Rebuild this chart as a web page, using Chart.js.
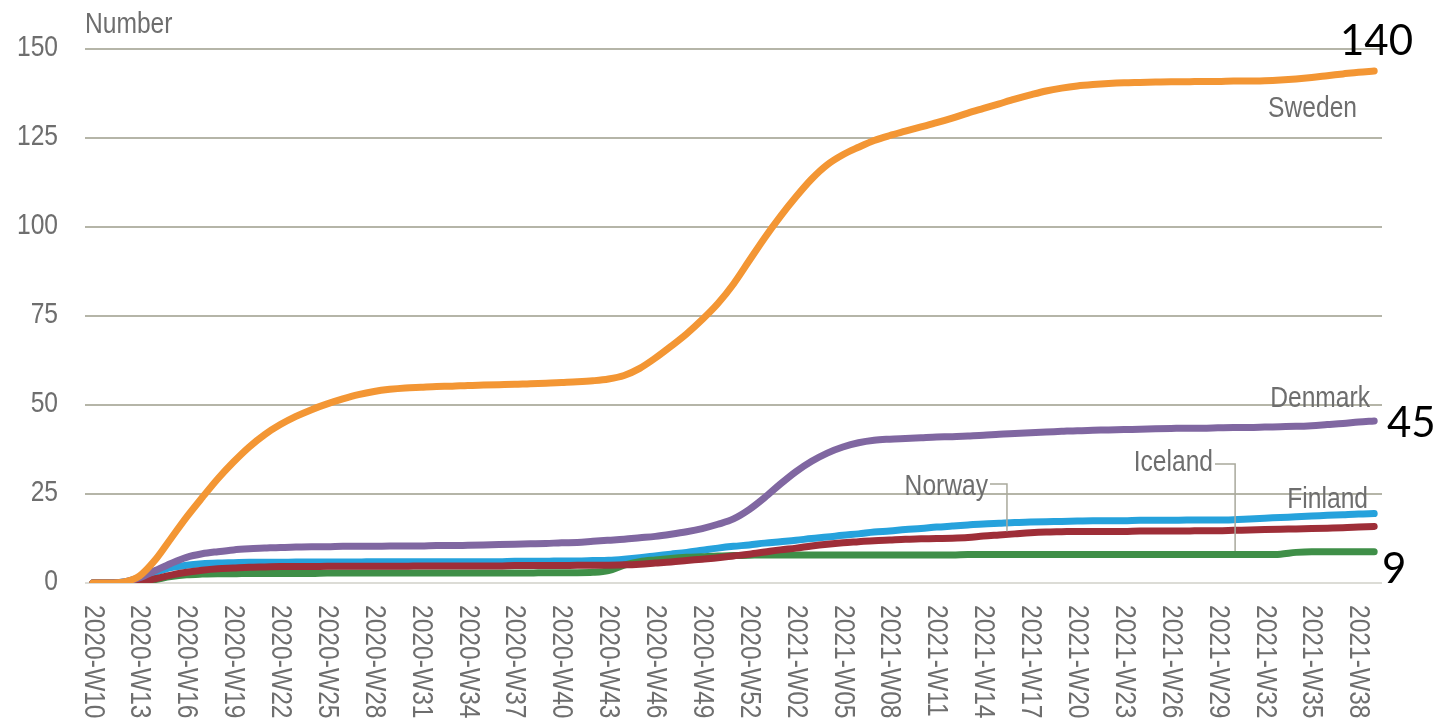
<!DOCTYPE html>
<html>
<head>
<meta charset="utf-8">
<script src="https://cdn.jsdelivr.net/npm/chart.js@4.4.0/dist/chart.umd.min.js"></script>
<style>
  html, body { margin: 0; padding: 0; background: #fff; }
</style>
</head>
<body>
<canvas id="chart1" width="1443" height="724"></canvas>
<script>
// Weekly categories: 2020-W10 .. 2020-W53, 2021-W01 .. 2021-W39
const weeks = [];
for (let w = 10; w <= 53; w++) weeks.push('2020-W' + String(w).padStart(2, '0'));
for (let w = 1; w <= 39; w++) weeks.push('2021-W' + String(w).padStart(2, '0'));

const yTicks = [0, 25, 50, 75, 100, 125, 150];

// Cumulative numbers, one value per week
const sweden = [
  0, 0, 0.3, 2, 6.5, 12.5, 18.5, 24, 29.3, 34,
  38.2, 41.7, 44.5, 46.8, 48.7, 50.3, 51.7, 52.9, 53.8, 54.4,
  54.8, 55, 55.2, 55.3, 55.5, 55.6, 55.7, 55.8, 56, 56.1,
  56.3, 56.5, 56.8, 57.3, 58.3, 60.3, 63.2, 66.5, 70, 74,
  78.5, 84, 90.5, 97, 103, 108.5, 113.5, 117.5, 120.3, 122.4,
  124.3, 125.7, 126.9, 128.1, 129.3, 130.6, 132, 133.3, 134.6, 135.9,
  137.1, 138.2, 139, 139.6, 140, 140.3, 140.5, 140.6, 140.7, 140.8,
  140.8, 140.9, 140.9, 141, 141, 141.1, 141.3, 141.6, 142, 142.5,
  143, 143.5, 143.8
];
const denmark = [
  0, 0, 0.3, 1.5, 3.5, 5.5, 7.2, 8.2, 8.8, 9.3,
  9.6, 9.8, 10, 10.1, 10.2, 10.2, 10.3, 10.3, 10.3, 10.4,
  10.4, 10.4, 10.5, 10.5, 10.6, 10.7, 10.8, 10.9, 11, 11.1,
  11.3, 11.4, 11.7, 12, 12.3, 12.7, 13.1, 13.7, 14.4, 15.3,
  16.5, 18, 20.6, 24, 27.8, 31.3, 34.2, 36.5, 38.2, 39.4,
  40.1, 40.4, 40.6, 40.8, 41, 41.1, 41.3, 41.5, 41.8, 42,
  42.2, 42.4, 42.6, 42.8, 42.9, 43, 43.1, 43.2, 43.3, 43.4,
  43.5, 43.5, 43.6, 43.7, 43.7, 43.8, 43.9, 44, 44.2, 44.5,
  44.8, 45.2, 45.5
];
const finland = [
  0, 0, 0.3, 1.5, 3, 4.3, 5, 5.4, 5.6, 5.7,
  5.8, 5.8, 5.8, 5.9, 5.9, 5.9, 5.9, 5.9, 6, 6,
  6, 6, 6, 6, 6, 6, 6, 6.1, 6.1, 6.1,
  6.2, 6.2, 6.3, 6.4, 6.7, 7.1, 7.6, 8.1, 8.6, 9.2,
  9.8, 10.3, 10.7, 11.2, 11.6, 12, 12.5, 12.9, 13.4, 13.8,
  14.3, 14.6, 15, 15.3, 15.7, 16, 16.3, 16.6, 16.8, 17,
  17.1, 17.2, 17.3, 17.4, 17.5, 17.5, 17.5, 17.6, 17.6, 17.6,
  17.7, 17.7, 17.7, 17.8, 18, 18.2, 18.4, 18.6, 18.8, 19,
  19.2, 19.4, 19.5
];
const norway = [
  0, 0, 0, 0.3, 1.2, 2.2, 3, 3.6, 4, 4.2,
  4.4, 4.5, 4.6, 4.6, 4.6, 4.7, 4.7, 4.7, 4.7, 4.7,
  4.7, 4.8, 4.8, 4.8, 4.8, 4.8, 4.8, 4.9, 4.9, 4.9,
  4.9, 5, 5, 5, 5.1, 5.3, 5.6, 5.9, 6.3, 6.7,
  7.1, 7.6, 8.1, 8.7, 9.3, 9.8, 10.4, 10.9, 11.3, 11.6,
  11.9, 12.1, 12.3, 12.4, 12.5, 12.6, 12.8, 13.2, 13.5, 13.8,
  14.1, 14.3, 14.4, 14.5, 14.5, 14.5, 14.5, 14.6, 14.6, 14.6,
  14.6, 14.7, 14.7, 14.8, 14.9, 15, 15.1, 15.2, 15.3, 15.4,
  15.5, 15.7, 15.9
];
const iceland = [
  0, 0, 0, 0.3, 1, 1.8, 2.3, 2.5, 2.6, 2.6,
  2.7, 2.7, 2.7, 2.7, 2.7, 2.8, 2.8, 2.8, 2.8, 2.8,
  2.8, 2.8, 2.8, 2.8, 2.8, 2.8, 2.8, 2.8, 2.8, 2.9,
  2.9, 2.9, 3, 3.5, 5, 6, 6.5, 6.9, 7.2, 7.4,
  7.6, 7.7, 7.8, 7.9, 7.9, 7.9, 7.9, 7.9, 7.9, 7.9,
  7.9, 7.9, 7.9, 7.9, 7.9, 7.9, 8, 8, 8, 8,
  8, 8, 8, 8, 8, 8, 8, 8, 8, 8,
  8, 8, 8, 8, 8, 8, 8.1, 8.6, 8.8, 8.8,
  8.8, 8.8, 8.8
];

const GREY = '#6e6e6e';
const FONT = "30px 'Liberation Sans', Arial, sans-serif";
const SQUEEZE = 0.82; // narrow look of the original labels

// Texts written over the plot (series names, y title)
const notes = [
  { text: 'Number', x: 85, y: 33, align: 'left' },
  { text: 'Sweden', x: 1357, y: 117, align: 'right' },
  { text: 'Denmark', x: 1370, y: 407, align: 'right' },
  { text: 'Finland', x: 1368, y: 508, align: 'right' },
  { text: 'Iceland', x: 1213, y: 471, align: 'right' },
  { text: 'Norway', x: 988, y: 495, align: 'right' }
];
const bigNotes = [
  { text: '140', x: 1340, y: 55 },
  { text: '45', x: 1387, y: 437 },
  { text: '9', x: 1382, y: 583 }
];

function narrowText(ctx, text, x, y, align, angle) {
  ctx.save();
  ctx.translate(x, y);
  if (angle) ctx.rotate(angle);
  ctx.scale(SQUEEZE, 1);
  ctx.textAlign = align;
  ctx.fillText(text, 0, 0);
  ctx.restore();
}

const extras = {
  id: 'extras',
  afterDraw(chart) {
    const ctx = chart.ctx;
    const xs = chart.scales.x, ys = chart.scales.y;
    const area = chart.chartArea;
    ctx.save();
    ctx.font = FONT;
    ctx.fillStyle = GREY;

    // y tick labels
    ctx.textBaseline = 'middle';
    yTicks.forEach(v => narrowText(ctx, String(v), 58, ys.getPixelForValue(v) - 1, 'right'));

    // rotated week labels, every third week, reading top to bottom
    weeks.forEach((w, i) => {
      if (i % 3 !== 0) return;
      narrowText(ctx, w, xs.getPixelForValue(i), area.bottom + 22, 'left', Math.PI / 2);
    });

    ctx.textBaseline = 'alphabetic';
    notes.forEach(n => narrowText(ctx, n.text, n.x, n.y, n.align));

    // leader lines for Norway and Iceland
    ctx.strokeStyle = '#a9a99c';
    ctx.lineWidth = 1.5;
    const nx = xs.getPixelForValue(58.5);
    ctx.beginPath();
    ctx.moveTo(990, 484);
    ctx.lineTo(nx, 484);
    ctx.lineTo(nx, ys.getPixelForValue(norway[58] + 1));
    ctx.stroke();
    const ix = xs.getPixelForValue(73.1);
    ctx.beginPath();
    ctx.moveTo(1215, 464);
    ctx.lineTo(ix, 464);
    ctx.lineTo(ix, ys.getPixelForValue(iceland[73] + 1));
    ctx.stroke();

    ctx.font = '42px Lato, Carlito, sans-serif';
    ctx.fillStyle = '#000';
    ctx.textAlign = 'left';
    bigNotes.forEach(n => ctx.fillText(n.text, n.x, n.y));
    ctx.restore();
  }
};

const line = (label, data, color) => ({
  label: label,
  data: data,
  borderColor: color,
  backgroundColor: color,
  borderWidth: 7,
  pointRadius: 0,
  cubicInterpolationMode: 'monotone',
  borderCapStyle: 'round',
  borderJoinStyle: 'round',
  fill: false
});

const ctx1 = document.getElementById('chart1').getContext('2d');
const chart1 = new Chart(ctx1, {
  type: 'line',
  data: {
    labels: weeks,
    // first dataset ends up on top
    datasets: [
      line('Sweden', sweden, '#f39634'),
      line('Denmark', denmark, '#8067a1'),
      line('Norway', norway, '#9e2e38'),
      line('Iceland', iceland, '#3f8f48'),
      line('Finland', finland, '#26a2dc')
    ]
  },
  options: {
    responsive: false,
    animation: false,
    devicePixelRatio: 1,
    layout: { padding: { top: 49, right: 61, bottom: 0, left: 0 } },
    plugins: { legend: { display: false }, tooltip: { enabled: false } },
    scales: {
      x: {
        offset: true,
        grid: { display: false },
        border: { display: false },
        ticks: { display: false },
        afterFit: s => { s.height = 141; }
      },
      y: {
        min: 0,
        max: 150,
        afterBuildTicks: s => { s.ticks = yTicks.map(v => ({ value: v })); },
        grid: {
          drawTicks: false,
          lineWidth: 2,
          color: c => (c.tick && c.tick.value === 0) ? '#dcdcd6' : '#b5b5a8'
        },
        border: { display: false },
        ticks: { display: false },
        afterFit: s => { s.width = 85; }
      }
    }
  },
  plugins: [extras]
});
</script>
</body>
</html>
